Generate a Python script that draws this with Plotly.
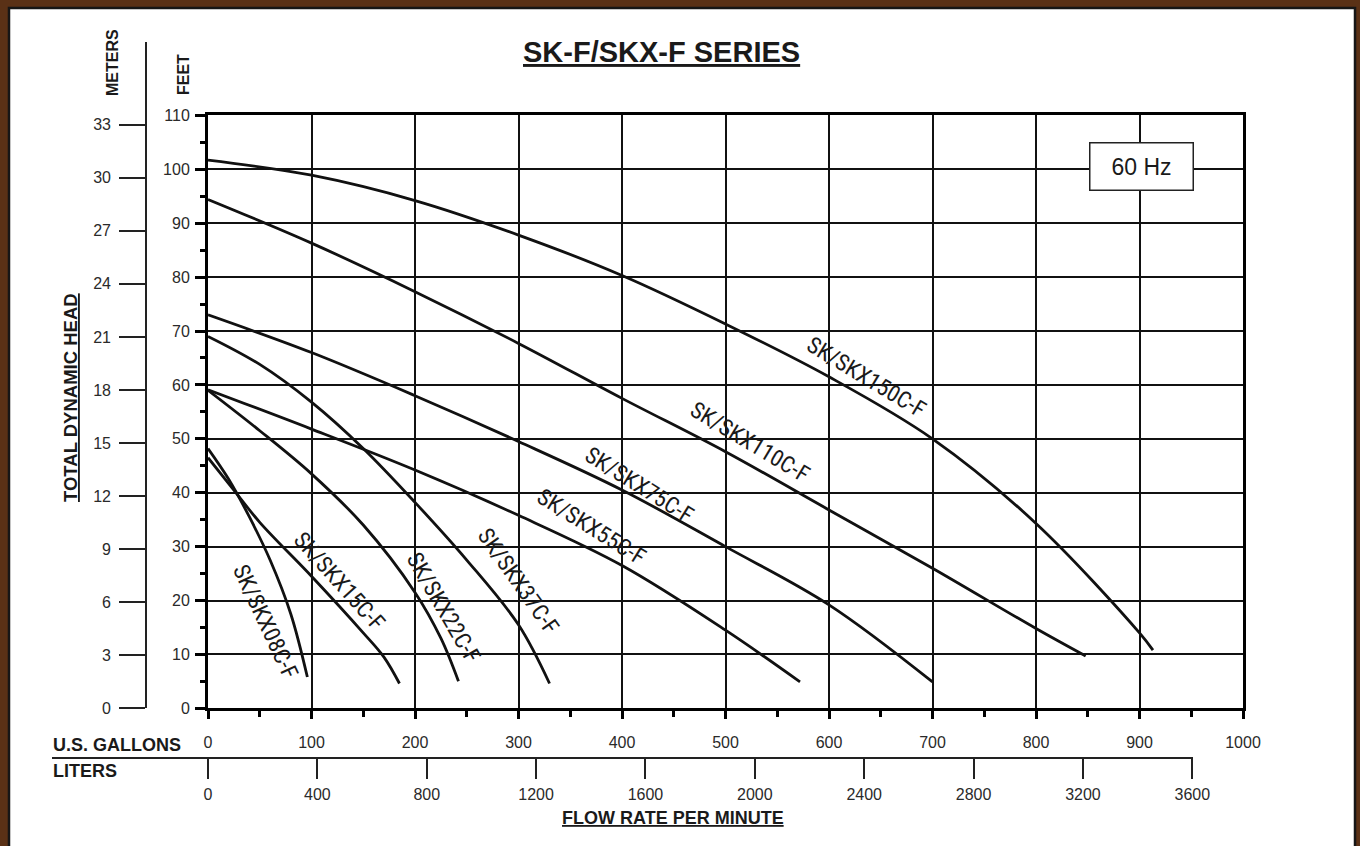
import plotly.graph_objects as go

# ---------------- data ----------------
models = ["SK/SKX150C-F", "SK/SKX110C-F", "SK/SKX75C-F", "SK/SKX55C-F",
          "SK/SKX37C-F", "SK/SKX22C-F", "SK/SKX15C-F", "SK/SKX08C-F"]

gpm_150 = [0, 100, 200, 300, 400, 500, 600, 700, 800, 900, 913]
head_150 = [101.7, 98.9, 94.2, 87.8, 80.3, 71.3, 61.5, 50.0, 34.3, 14.0, 10.8]

gpm_110 = [0, 100, 200, 300, 400, 500, 600, 700, 800, 848]
head_110 = [94.4, 86.3, 77.3, 67.7, 57.5, 47.6, 36.8, 26.0, 14.8, 9.7]

gpm_75 = [0, 100, 200, 300, 400, 500, 600, 700]
head_75 = [73.0, 66.0, 58.0, 49.5, 40.5, 30.0, 19.2, 4.9]

gpm_55 = [0, 100, 200, 300, 400, 500, 572]
head_55 = [59.1, 51.8, 44.2, 35.8, 26.5, 14.5, 4.9]

gpm_37 = [0, 50, 100, 150, 200, 250, 300, 330]
head_37 = [69.0, 63.8, 56.8, 48.2, 38.2, 27.5, 15.5, 4.6]

gpm_22 = [0, 50, 100, 150, 200, 225, 242]
head_22 = [59.0, 51.5, 43.5, 34.0, 21.5, 13.0, 5.0]

gpm_15 = [0, 25, 50, 100, 150, 170, 185]
head_15 = [46.5, 40.5, 34.5, 24.5, 14.0, 9.5, 4.6]

gpm_08 = [0, 20, 40, 60, 80, 96]
head_08 = [48.2, 42.5, 35.5, 27.5, 17.5, 5.8]

# curve label anchor (gpm, ft) and rotation
label_gpm = [636, 524, 417, 371, 300, 228, 127, 56]
label_ft = [61.3, 49.4, 41.4, 33.6, 23.6, 18.6, 23.6, 16.0]
label_angle = [31, 31, 32, 32, 55, 60, 48, 65]

gal_ticks = list(range(0, 1001, 100))
ft_ticks = list(range(0, 111, 10))
m_ticks = list(range(0, 34, 3))
liter_ticks = list(range(0, 3601, 400))

GAL_TO_L = 3.78541
FT_PER_M = 3.28084

# ---------------- layout geometry (pixels) ----------------
W, H = 1360, 846
ML, MR, MT, MB = 40, 117, 30, 30
PW, PH = W - ML - MR, H - MT - MB
X0, X1 = 208, 1243          # gallons axis 0 .. 1000
Y0, Y1 = 708.3, 115.4       # feet axis 0 .. 110
M_TOP_PX = 42               # top of meters axis line
M_X = 146                   # meters axis x
L_Y = 758                   # liters axis y
L_LEFT, L_RIGHT = 52, 1193


def px(xp):
    return (xp - ML) / PW


def py(yp):
    return (MT + PH - yp) / PH


ppg = (X1 - X0) / 1000.0
ppf = (Y0 - Y1) / 110.0
m_top = (Y0 - M_TOP_PX) / (ppf * FT_PER_M)
l_lo = (L_LEFT - X0) / ppg * GAL_TO_L
l_hi = (L_RIGHT - X0) / ppg * GAL_TO_L

x_dom = [px(X0), px(X1)]
y_dom = [py(Y0), py(Y1)]

TXT = "#1a1a1a"
FONT = "Liberation Sans, Arial, Helvetica, sans-serif"
NARROW = "Liberation Sans Narrow, Arial Narrow, Roboto Condensed, DejaVu Sans Condensed, sans-serif"

fig = go.Figure()

series = [(gpm_150, head_150), (gpm_110, head_110), (gpm_75, head_75), (gpm_55, head_55),
          (gpm_37, head_37), (gpm_22, head_22), (gpm_15, head_15), (gpm_08, head_08)]
for name, (gx, hy) in zip(models, series):
    fig.add_trace(go.Scatter(x=gx, y=hy, mode="lines", name=name,
                             line=dict(color="#111111", width=2.8, shape="spline", smoothing=1.0),
                             showlegend=False, hoverinfo="skip"))

# dummy traces so the secondary (meters / liters) axes get drawn
fig.add_trace(go.Scatter(x=[None], y=[None], xaxis="x3", yaxis="y2", showlegend=False, hoverinfo="skip"))
fig.add_trace(go.Scatter(x=[None], y=[None], xaxis="x2", yaxis="y3", showlegend=False, hoverinfo="skip"))

tickfont = dict(family=FONT, size=16, color="#2a2a2a")

fig.update_layout(
    width=W, height=H,
    margin=dict(l=ML, r=MR, t=MT, b=MB),
    paper_bgcolor="#5a3116",
    plot_bgcolor="rgba(0,0,0,0)",
    showlegend=False,
    xaxis=dict(domain=x_dom, range=[0, 1000], anchor="y",
               tickvals=gal_ticks, ticktext=[str(v) for v in gal_ticks],
               showgrid=True, gridcolor="#111111", gridwidth=1.6,
               showline=True, linecolor="#000000", linewidth=3, mirror=True,
               ticks="outside", ticklen=8, tickwidth=2.5, tickcolor="#000000",
               minor=dict(tickvals=list(range(50, 1000, 100)), ticks="outside", ticklen=6,
                          tickwidth=2.5, tickcolor="#000000", showgrid=False),
               tickfont=tickfont, ticklabelstandoff=9, zeroline=False, fixedrange=True),
    yaxis=dict(domain=y_dom, range=[0, 110], anchor="x",
               tickvals=ft_ticks, ticktext=[str(v) for v in ft_ticks],
               showgrid=True, gridcolor="#111111", gridwidth=1.6,
               showline=True, linecolor="#000000", linewidth=3, mirror=True,
               ticks="outside", ticklen=10, tickwidth=2.5, tickcolor="#000000",
               minor=dict(tickvals=list(range(5, 110, 10)), ticks="outside", ticklen=5,
                          tickwidth=2.5, tickcolor="#000000", showgrid=False),
               tickfont=tickfont, ticklabelstandoff=2, zeroline=False, fixedrange=True),
    yaxis2=dict(domain=[py(Y0), py(M_TOP_PX)], range=[0, m_top], anchor="free",
                position=px(M_X), side="left",
                tickvals=m_ticks, ticktext=[str(v) for v in m_ticks],
                showgrid=False, zeroline=False,
                showline=True, linecolor="#222222", linewidth=1.6,
                ticks="outside", ticklen=26, tickwidth=1.8, tickcolor="#222222",
                tickfont=tickfont, ticklabelstandoff=5, fixedrange=True),
    xaxis3=dict(domain=x_dom, range=[0, 1], anchor="y2", visible=False),
    xaxis2=dict(domain=[px(L_LEFT), px(L_RIGHT)], range=[l_lo, l_hi], anchor="free",
                position=py(L_Y), side="bottom",
                tickvals=liter_ticks, ticktext=[str(v) for v in liter_ticks],
                showgrid=False, zeroline=False,
                showline=True, linecolor="#222222", linewidth=1.6,
                ticks="outside", ticklen=20, tickwidth=1.8, tickcolor="#222222",
                tickfont=tickfont, ticklabelstandoff=2, fixedrange=True),
    yaxis3=dict(domain=y_dom, range=[0, 1], anchor="x2", visible=False),
)

# white page with a dark edge over the brown frame
fig.add_shape(type="rect", xref="paper", yref="paper",
              x0=px(9), x1=px(1355), y0=py(850), y1=py(8),
              fillcolor="#ffffff", line=dict(color="#161616", width=2.5), layer="below")

ann = []


def text(s, x, y, size, angle=0, bold=True, family=FONT, color=TXT):
    ann.append(dict(text=(f"<b>{s}</b>" if bold else s), x=px(x), y=py(y),
                    xref="paper", yref="paper", showarrow=False, textangle=angle,
                    font=dict(family=family, size=size, color=color),
                    xanchor="center", yanchor="middle"))


text("<u>SK-F/SKX-F SERIES</u>", 661, 52, 29)
text("METERS", 112, 63, 16, angle=-90)
text("FEET", 183, 75, 16, angle=-90)
text("<u>TOTAL DYNAMIC HEAD</u>", 70, 398, 18.5, angle=-90)
text("<u>FLOW RATE PER MINUTE</u>", 673, 818, 18)
ann.append(dict(text="<b>U.S. GALLONS</b>", x=px(51), y=py(745), xref="paper", yref="paper",
                showarrow=False, xanchor="left", yanchor="middle",
                font=dict(family=FONT, size=18, color=TXT)))
ann.append(dict(text="<b>LITERS</b>", x=px(51), y=py(771), xref="paper", yref="paper",
                showarrow=False, xanchor="left", yanchor="middle",
                font=dict(family=FONT, size=18, color=TXT)))

# 60 Hz box
ann.append(dict(text="60 Hz", x=902, y=100.6, xref="x", yref="y", showarrow=False,
                xanchor="center", yanchor="middle", width=98, height=42,
                bgcolor="#ffffff", bordercolor="#222222", borderwidth=1.5, borderpad=2,
                font=dict(family=FONT, size=23, color=TXT)))

# curve labels
for name, gx, hy, ang in zip(models, label_gpm, label_ft, label_angle):
    ann.append(dict(text=name, x=gx, y=hy, xref="x", yref="y", showarrow=False,
                    textangle=ang, xanchor="center", yanchor="middle",
                    font=dict(family=NARROW, size=23, color=TXT)))

fig.update_layout(annotations=ann)

fig.write_html("out.html", config={"displayModeBar": False},
               post_script="document.body.style.margin='0px';document.body.style.background='#5a3116';")
